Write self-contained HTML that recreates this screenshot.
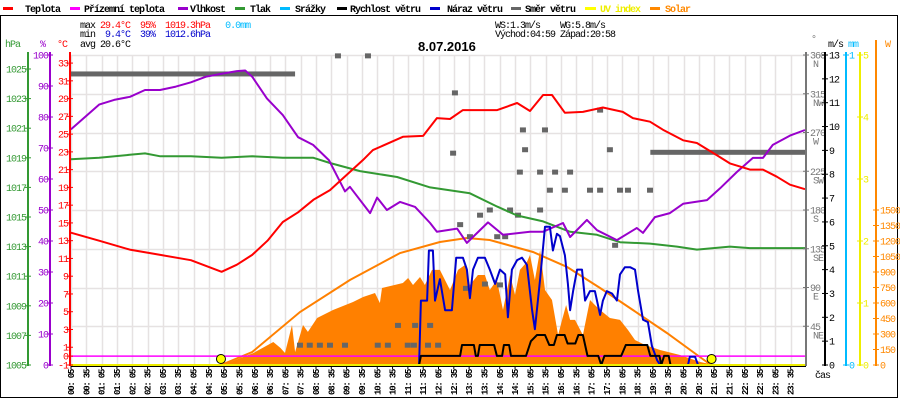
<!DOCTYPE html>
<html><head><meta charset="utf-8">
<style>
html,body{margin:0;padding:0;background:#fff;}
svg{display:block;font-family:"Liberation Mono",monospace;}
svg text{font-size:10px;letter-spacing:-1px;white-space:pre;}
svg text.ttl{font-family:"Liberation Sans",sans-serif;font-size:13px;letter-spacing:0;font-weight:bold;}
svg text.xl{font-size:9px;letter-spacing:-1.2px;font-weight:bold;}
svg .lg text{font-weight:bold;}
</style></head>
<body>
<svg id="chart" width="900" height="400" viewBox="0 0 900 400" xmlns="http://www.w3.org/2000/svg">
<rect x="0.5" y="15.5" width="897" height="382" fill="#fff" stroke="#000"/>
<g class="lg">
 <g><rect x="3" y="7" width="10" height="3" fill="#f00"/><text x="25" y="12">Teplota</text></g>
 <g><rect x="70" y="7" width="10" height="3" fill="#f0f"/><text x="84" y="12">Přízemní teplota</text></g>
 <g><rect x="178" y="7" width="10" height="3" fill="#90c"/><text x="190" y="12">Vlhkost</text></g>
 <g><rect x="235" y="7" width="10" height="3" fill="#393"/><text x="250" y="12">Tlak</text></g>
 <g><rect x="280" y="7" width="10" height="3" fill="#0bf"/><text x="295" y="12">Srážky</text></g>
 <g><rect x="337" y="7" width="10" height="3" fill="#000"/><text x="350" y="12">Rychlost větru</text></g>
 <g><rect x="430" y="7" width="10" height="3" fill="#00c"/><text x="447" y="12">Náraz větru</text></g>
 <g><rect x="511" y="7" width="10" height="3" fill="#666"/><text x="525" y="12">Směr větru</text></g>
 <g><rect x="585" y="7" width="11" height="3" fill="#ff0"/><text x="600" y="12" fill="#ee0">UV index</text></g>
 <g><rect x="650" y="7" width="10" height="3" fill="#f80"/><text x="665" y="12" fill="#f80">Solar</text></g>
</g>
<g>
 <text x="80" y="28">max <tspan fill="#f00">29.4°C  95%  1019.3hPa</tspan>   <tspan fill="#0bf">0.0mm</tspan></text>
 <text x="80" y="37">min  <tspan fill="#00c">9.4°C  39%  1012.6hPa</tspan></text>
 <text x="80" y="47">avg 20.6°C</text>
 <text x="495" y="28">WS:1.3m/s    WG:5.8m/s</text>
 <text x="495" y="37">Východ:04:59 Západ:20:58</text>
</g>
<text class="ttl" x="418" y="51">8.07.2016</text>
<g id="grid"></g>
<g id="plot"></g>
<g id="axes"></g>
</svg>
<script>
// ---- data ----
const tempTimes=[0.08,1,2,3,4,5,5.5,6,6.5,7,7.5,8,8.54,9.62,9.94,10.92,11.58,12.03,12.46,12.88,14.0,14.65,15.07,15.5,15.79,16.21,16.8,17.45,18.1,18.43,18.99,19.41,20.07,20.52,21.18,21.6,22.25,22.68,23.13,23.56,24.05];
const tempValues=[13.9,13,12,11.4,10.8,9.5,10.3,11.4,13,15.1,16.2,17.6,18.7,22.1,23.2,24.7,24.8,26.8,26.7,27.7,27.7,28.5,27.6,29.4,29.4,27.4,27.5,28,27.5,26.8,26.4,25.5,24.3,24.0,22.6,21.7,21,21,20.2,19.3,18.8];
const humTimes=[0.08,1.0,1.49,2.01,2.5,2.99,3.51,4.0,4.49,4.98,5.5,5.77,6.0,6.48,7.0,7.5,7.99,8.51,9.03,9.19,9.85,10.08,10.4,10.83,11.32,11.81,12.03,12.69,13.01,13.7,14.19,15.07,15.5,16.15,16.38,16.93,17.26,17.91,18.56,18.76,19.15,19.64,20.07,20.85,21.28,21.83,22.35,22.68,23.0,23.56,24.05];
const humValues=[76,84,85.5,86.5,88.7,88.7,89.8,91.2,93,93.9,94.8,95,93,86,80.6,73.5,71,66,56,57.5,49,54,50,52.6,51,45.8,43,44,39.4,46,42,43,43,45.8,41.3,46.8,43.5,40.3,44.2,42.6,47.7,49,52,53.2,57,62.3,66.8,66.8,71,74,75.8];
const presTimes=[0.08,1,2,2.5,3,4,5,6,7,8,8.54,9.52,10.73,11.81,13.11,14.0,14.65,15.5,16.38,17.26,18.01,18.99,19.87,20.52,21.6,22.25,24.05];
const presValues=[1018.9,1019.0,1019.2,1019.3,1019.1,1019.1,1019.0,1019.1,1019.0,1019.0,1018.65,1018.1,1017.7,1017.0,1016.6,1015.7,1015.1,1014.7,1014.0,1013.8,1013.3,1013.2,1013.0,1012.8,1013.0,1012.9,1012.9];
const solarTimes=[5.03,6.04,6.69,6.92,7.07,7.3,7.4,7.66,7.82,8.12,8.64,9.29,9.62,10.01,10.17,10.24,10.92,11.09,11.25,11.48,11.64,11.87,12.13,12.46,12.72,12.95,13.11,13.37,13.6,13.76,13.99,14.19,14.42,14.58,14.74,14.97,15.07,15.23,15.4,15.56,15.79,15.99,16.12,16.25,16.38,16.54,16.8,17.03,17.19,17.36,17.68,18.01,18.27,18.5,18.83,19.32,19.97,20.63,21.11];
const solarValues=[0,116,223,165,116,387,126,387,320,455,532,610,658,697,600,745,794,842,774,852,774,920,920,726,920,968,774,871,871,726,823,532,871,678,920,997,1065,823,1113,726,629,290,436,581,436,436,290,629,581,532,455,436,339,242,194,145,97,29,0];
const solarMaxTimes=[4.98,6.0,7.56,9.19,10.83,12.13,13.01,13.76,15.17,16.28,17.36,18.43,19.54,20.62,20.98];
const solarMaxValues=[0,126,513,823,1084,1190,1229,1210,1094,949,745,532,310,77,0];
const gustTimes=[0.08,11.45,11.51,11.71,11.77,11.9,11.97,12.13,12.3,12.52,12.66,12.88,13.01,13.11,13.21,13.37,13.6,13.76,13.93,14.09,14.26,14.35,14.48,14.65,14.81,14.97,15.14,15.23,15.4,15.56,15.72,15.82,15.95,16.05,16.21,16.31,16.38,16.48,16.61,16.77,16.87,17.03,17.19,17.36,17.45,17.58,17.75,17.91,18.01,18.17,18.34,18.5,18.6,18.76,18.92,19.05,19.22,19.32,20.23,20.29,20.46,20.56,24.05];
const gustValues=[0,0,2.7,2.7,4.8,4.8,2.7,3.6,2.3,2.3,4.5,4.5,4.0,2.8,4.0,4.5,4.5,4.0,3.4,4.0,3.8,2.0,4.0,4.4,4.5,4.2,2.3,1.5,3.6,5.8,5.8,4.8,5.5,5.4,4.6,3.4,2.3,3.1,4.0,4.0,2.7,3.1,3.1,2.1,2.7,3.1,3.0,2.7,3.8,4.1,4.1,4.0,3.1,1.9,1.8,0.8,0.2,0,0,0.35,0.35,0,0];
const speedTimes=[0.08,11.45,11.51,12.79,12.85,13.24,13.3,13.37,13.43,13.9,13.99,14.16,14.22,14.39,14.45,14.94,15.1,15.3,15.56,15.7,15.85,15.95,16.2,16.3,16.55,16.65,16.8,16.95,17.3,17.4,17.5,18.05,18.2,18.9,19.0,19.3,19.36,19.45,19.6,19.66,24.05];
const speedValues=[0,0,0.38,0.38,0.84,0.84,0.38,0.38,0.84,0.84,0.38,0.38,0.84,0.84,0.38,0.38,1.0,1.26,1.26,0.84,0.84,1.26,1.26,0.9,0.9,1.26,1.26,0.38,0.38,0,0.38,0.38,0.84,0.84,0.38,0.38,0,0.38,0.38,0,0];
const dirTimes=[8.8,9.78,12.62,12.56,14.84,14.91,15.56,17.36,17.68,13.44,13.76,14.42,14.68,14.74,15.4,15.89,16.38,17.03,17.36,18.01,18.27,18.99,15.72,16.21,12.79,13.11,14.0,14.26,15.4,17.85,12.98,13.6,14.09,10.76,11.32,11.81,7.56,7.88,8.21,8.54,9.03,10.1,10.43,11.08,11.28,11.74,12.07];
const dirValues=[359,359,316,246,273,250,273,296,250,174,180,180,174,224,224,224,224,203,203,203,203,203,203,203,163,149,149,149,180,139,89,94,93,46,46,46,23,23,23,23,23,23,23,23,23,23,23];
const dirSpanStart=[0.08,19.0];
const dirSpanEnd=[7.4,24.08];
const dirSpanValues=[338,247];
const sunTimes=[4.98,21.0];
const xTickLabels=[];for(let i=0;i<48;i++){const m=5+30*i;xTickLabels.push(String(Math.floor(m/60)).padStart(2,'0')+': '+String(m%60).padStart(2,'0'));}
const tempTicks=[33,31,29,27,25,23,21,19,17,15,13,11,9,7,5,3,1,0,-1];
const humTicks=[100,90,80,70,60,50,40,30,20,10,0];
const presTicks=[1025,1023,1021,1019,1017,1015,1013,1011,1009,1007,1005];
const dirTicks=[360,315,270,225,180,135,90,45];
const dirNames=['N','NW','W','SW','S','SE','E','NE'];
const windTicks=[0,1,2,3,4,5,6,7,8,9,10,11,12,13];
const uvTicks=[0,1,2,3,4,5];
const solarTicks=[0,150,300,450,600,750,900,1050,1200,1350,1500];

// ---- scales ----
const X0=71,X1=806,Y0=365;
const xS=h=>X0+(h-0.0833)*30.625;
const tS=v=>Y0-(v+1)*8.88;
const hS=v=>Y0-v*3.1;
const pS=v=>Y0-(v-1005)*14.8;
const dS=v=>Y0-v*310/360;
const wS=v=>Y0-v*310/13;
const uS=v=>Y0-v*62;
const sS=v=>Y0-v*155/1500;
const NS='http://www.w3.org/2000/svg';
function mk(tag,attrs,parent){const e=document.createElementNS(NS,tag);for(const k in attrs)e.setAttribute(k,attrs[k]);parent.appendChild(e);return e;}
const grid=document.getElementById('grid'),plot=document.getElementById('plot'),axes=document.getElementById('axes');

xTickLabels.forEach((l,i)=>{const x=Math.round(xS(0.0833+i*0.5))+0.5;const g=mk('line',{x1:x,x2:x,y1:55,y2:365,stroke:'#e6e2e2','stroke-width':1.5},grid);

});
dirTicks.forEach(v=>{const y=Math.round(dS(v))+0.5;const g=mk('line',{x1:X0,x2:X1,y1:y,y2:y,stroke:'#e6e2e2','stroke-width':1.5},grid);

});

function pts(ts,vs,sc){return ts.map((t,i)=>xS(t).toFixed(1)+','+sc(vs[i]).toFixed(1)).join(' ');}
let sp='M'+xS(solarTimes[0])+','+Y0+' L'+pts(solarTimes,solarValues,sS)+' L'+xS(solarTimes[solarTimes.length-1])+','+Y0+' Z';
const sf=mk('path',{d:sp,fill:'#ff8000'},plot);


const sm=mk('polyline',{points:pts(solarMaxTimes,solarMaxValues,sS),fill:'none',stroke:'#ff8000','stroke-width':2},plot);


const gt=mk('line',{x1:X0,x2:X1,y1:tS(0),y2:tS(0),stroke:'#f0f','stroke-width':1.5},plot);


dirSpanValues.forEach((v,i)=>{const x1=xS(dirSpanStart[i]),x2=xS(dirSpanEnd[i]);const r=mk('rect',{x:x1,y:dS(v)-2.5,width:x2-x1,height:5,fill:'#666'},plot);

});
dirTimes.forEach((t,i)=>{const r=mk('rect',{x:xS(t)-3,y:dS(dirValues[i])-2.5,width:6,height:5,fill:'#666'},plot);

});
const series=[[presTimes,presValues,pS,'#393','pressure-line'],[humTimes,humValues,hS,'#90c','humidity-line'],[tempTimes,tempValues,tS,'#f00','temperature-line'],[gustTimes,gustValues,wS,'#00c','wind-gust-line'],[speedTimes,speedValues,wS,'#000','wind-speed-line']];
series.forEach(s=>{const p=mk('polyline',{points:pts(s[0],s[1],s[2]),fill:'none',stroke:s[3],'stroke-width':2,'stroke-linejoin':'round'},plot);

});
const uv=mk('line',{x1:X0,x2:X1,y1:Y0,y2:Y0,stroke:'#ee0','stroke-width':2},plot);


sunTimes.forEach(t=>{const c=mk('circle',{cx:xS(t),cy:359,r:4.5,fill:'#ff0',stroke:'#000','stroke-width':1},plot);

});

function vaxis(x,color,ticks,sc,anchor,tx,name){
 const l=mk('line',{x1:x,x2:x,y1:52,y2:366,stroke:color,'stroke-width':2},axes);
 
 
 ticks.forEach((v,i)=>{const y=sc(v);mk('line',{x1:x-3,x2:x+3,y1:y,y2:y,stroke:color,'stroke-width':1},axes);
  const t=mk('text',{x:tx,y:y+3.5,fill:color,'text-anchor':anchor},axes);t.textContent=v;
  
  });
}
vaxis(28,'#393',presTicks,pS,'end',26,'pressure-axis');
vaxis(50,'#90c',humTicks,hS,'end',48,'humidity-axis');
vaxis(70,'#f00',tempTicks,tS,'end',68,'temperature-axis');
vaxis(806,'#777',dirTicks,dS,'start',810,'direction-axis');
vaxis(825,'#000',windTicks,wS,'start',829,'wind-axis');
vaxis(846,'#0bf',[0,1],v=>Y0-v*310,'start',849,'rain-axis');
vaxis(860,'#ee0',uvTicks,uS,'start',863,'uv-axis');
const so=mk('line',{x1:876,x2:876,y1:40,y2:366,stroke:'#f80','stroke-width':2},axes);


solarTicks.forEach(v=>{const y=sS(v);mk('line',{x1:873,x2:879,y1:y,y2:y,stroke:'#f80'},axes);const t=mk('text',{x:880,y:y+3.5,fill:'#f80'},axes);t.textContent=v;

});
dirTicks.forEach((v,i)=>{const t=mk('text',{x:813,y:dS(v)+12,fill:'#777'},axes);t.textContent=dirNames[i];

});
[['hPa',5,47,'#393'],['%',40,47,'#90c'],['°C',57,47,'#f00'],['°',811,42,'#777'],['m/s',828,47,'#000'],['mm',848,47,'#0bf'],['W',885,47,'#f80'],['čas',815,378,'#000']].forEach(a=>{const t=mk('text',{x:a[1],y:a[2],fill:a[3]},axes);t.textContent=a[0];

});
const xa=mk('line',{x1:X0,x2:X1,y1:366.5,y2:366.5,stroke:'#000','stroke-width':1},axes);


xTickLabels.forEach((l,i)=>{const x=xS(0.0833+i*0.5);mk('line',{x1:x,x2:x,y1:366,y2:369,stroke:'#000'},axes);
 const t=mk('text',{x:0,y:0,'class':'xl','text-anchor':'start',transform:'translate('+(x+3)+',395) rotate(-90)'},axes);t.textContent=l;
 
 });
</script>
</body></html>
